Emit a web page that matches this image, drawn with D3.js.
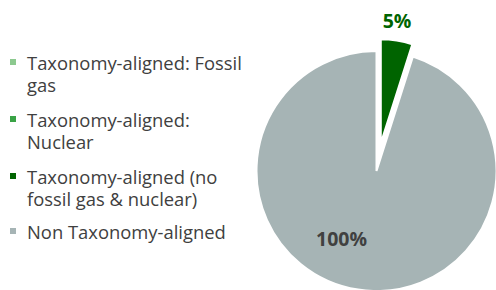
<!DOCTYPE html>
<html>
<head>
<meta charset="utf-8">
<script src="https://cdn.jsdelivr.net/npm/d3@7"></script>
<style>
  body { margin: 0; background: #fff; }
  svg { display: block; }
</style>
</head>
<body>
<div id="chart"></div>
<script>
var categories = [
  "Taxonomy-aligned: Fossil gas",
  "Taxonomy-aligned: Nuclear",
  "Taxonomy-aligned (no fossil gas & nuclear)",
  "Non Taxonomy-aligned"
];
var legendLines = [
  ["Taxonomy-aligned: Fossil", "gas"],
  ["Taxonomy-aligned:", "Nuclear"],
  ["Taxonomy-aligned (no", "fossil gas & nuclear)"],
  ["Non Taxonomy-aligned"]
];
var values = [0, 0, 4.9, 95.1];
var labels = ["", "", "5%", "100%"];
var colors = ["#8cc98f", "#3aa346", "#006400", "#a6b4b5"];
var labelColors = ["#404040", "#404040", "#006400", "#404040"];

var width = 496, height = 290;

var svg = d3.select("#chart").append("svg")
  .attr("width", width)
  .attr("height", height);

var font = "'Open Sans', sans-serif";

// pie, the aligned slice is pulled out
var cx = 376.5, cy = 171, radius = 120;
var explodeR = 104, explodeOffset = 28;

var pie = d3.pie().sort(null).value(function(d) { return d; });
var arcs = pie(values);

var g = svg.append("g").attr("transform", "translate(" + cx + "," + cy + ")");

arcs.forEach(function(a, i) {
  if (a.value === 0) return;
  var exploded = i === 2;
  var r = exploded ? explodeR : radius;
  var mid = (a.startAngle + a.endAngle) / 2;
  var dx = exploded ? explodeOffset * Math.sin(mid) : 0;
  var dy = exploded ? -explodeOffset * Math.cos(mid) : 0;
  var arc = d3.arc().innerRadius(0).outerRadius(r);
  g.append("path")
    .attr("d", arc(a))
    .attr("transform", "translate(" + dx + "," + dy + ")")
    .attr("fill", colors[i])
    .attr("stroke", "#fff")
    .attr("stroke-width", 2)
    .attr("stroke-linejoin", "miter");
});

// data labels
var labelPos = [null, null, [20.5, -151], [-35, 67]];
arcs.forEach(function(a, i) {
  if (!labels[i]) return;
  g.append("text")
    .attr("x", labelPos[i][0])
    .attr("y", labelPos[i][1])
    .attr("text-anchor", "middle")
    .attr("dominant-baseline", "central")
    .attr("font-family", font)
    .attr("font-weight", "bold")
    .attr("font-size", 19.5)
    .attr("fill", labelColors[i])
    .text(labels[i]);
});

// legend
var legend = svg.append("g").attr("transform", "translate(10,0)");
var itemY = [62, 119, 176, 231];
var lineH = 22;
legendLines.forEach(function(lines, i) {
  var item = legend.append("g").attr("transform", "translate(0," + itemY[i] + ")");
  item.append("rect")
    .attr("x", 0).attr("y", -3)
    .attr("width", 6).attr("height", 6)
    .attr("fill", colors[i]);
  lines.forEach(function(t, j) {
    item.append("text")
      .attr("x", 17)
      .attr("y", j * lineH)
      .attr("dominant-baseline", "central")
      .attr("font-family", font)
      .attr("font-size", 18.4)
      .attr("fill", "#404040")
      .text(t);
  });
});
</script>
</body>
</html>
